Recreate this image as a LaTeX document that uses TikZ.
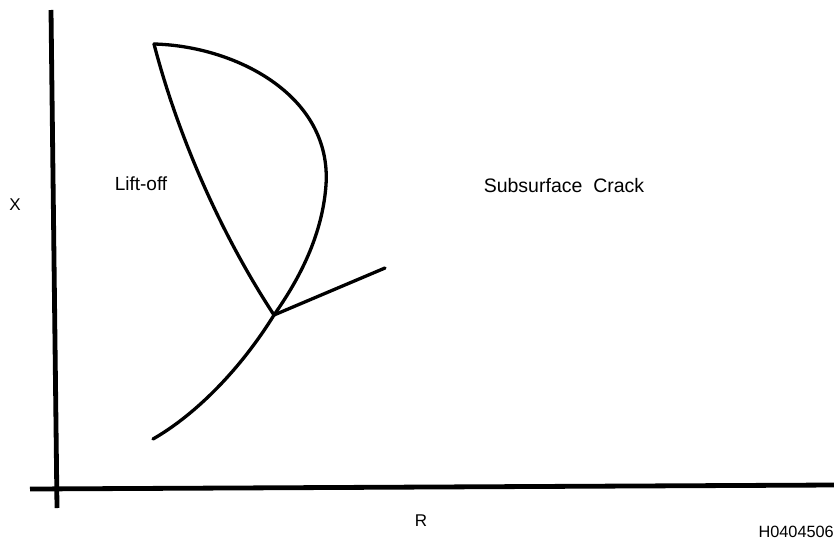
\documentclass[tikz,border=0pt]{standalone}
\usepackage{fontspec}
\setmainfont{Liberation Sans}
\begin{document}
\begin{tikzpicture}[x=1pt,y=-1pt,
  axisline/.style={line width=4.8pt},
  crackline/.style={line width=3.3pt, line cap=round, line join=round},
  lbl/.style={inner sep=0pt, font=\fontsize{17}{20}\selectfont},
  biglbl/.style={inner sep=0pt, font=\fontsize{19.5}{23}\selectfont}]
\useasboundingbox (0,0) rectangle (834,544);
% axes
\coordinate (ytop) at (51,10);
\coordinate (ybot) at (57,508);
\coordinate (xleft) at (30,489);
\coordinate (xright) at (834,485);
\draw[axisline] (ytop) -- (ybot);
\draw[axisline] (xleft) -- (xright);
% crack geometry
\coordinate (apex) at (154,44);
\coordinate (junc) at (274,315);
\coordinate (branch) at (385,268);
\coordinate (low) at (153,439);
\draw[crackline] (apex) .. controls (235,46) and (332,95) .. (326,185)
  .. controls (322,240) and (295,285) .. (junc);
\draw[crackline] (apex) .. controls (175,125) and (215,225) .. (junc);
\draw[crackline] (junc) -- (branch);
\draw[crackline] (junc) .. controls (240,370) and (195,415) .. (low);
% labels
\node[inner sep=0pt, font=\fontsize{19}{22}\selectfont] (lift) at (141,184) {Lift-off};
\node[biglbl] (sub) at (564,186) {Subsurface\ \ Crack};
\node[lbl] (xl) at (15,205) {X};
\node[lbl] (rl) at (421,521) {R};
\node[inner sep=0pt, font=\fontsize{16.3}{19}\selectfont, anchor=east] (code) at (834,532) {H0404506};
\end{tikzpicture}
\end{document}
